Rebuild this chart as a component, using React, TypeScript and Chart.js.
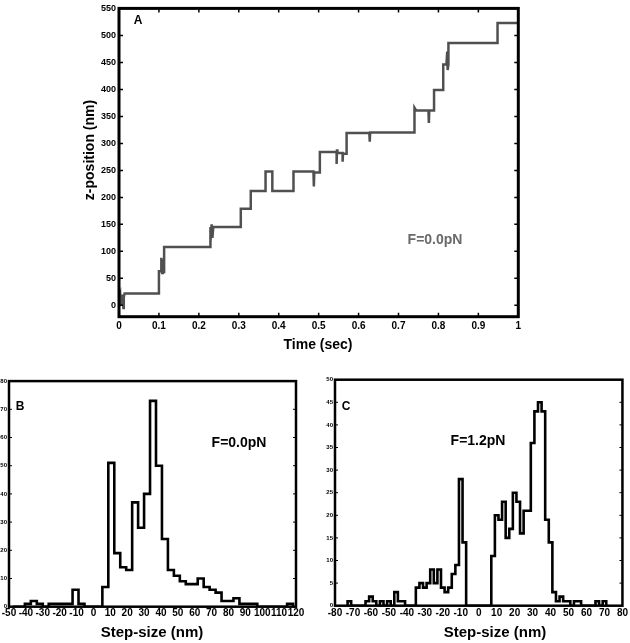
import React, { useEffect, useRef } from 'react';
import { Chart, registerables } from 'chart.js';
Chart.register(...registerables);

const FONT = '"Liberation Sans", Arial, Helvetica, sans-serif';

// ---------- Panel A: z-position trace ----------
const timeA = [
  0, 0.003, 0.004, 0.006, 0.008, 0.010, 0.011, 0.012, 0.014, 0.100,
  0.100, 0.106, 0.106, 0.108, 0.110, 0.111, 0.113, 0.113, 0.228, 0.228,
  0.230, 0.232, 0.234, 0.236, 0.305, 0.305, 0.330, 0.330, 0.367, 0.367,
  0.384, 0.384, 0.437, 0.437, 0.487, 0.488, 0.489, 0.503, 0.503, 0.545,
  0.545, 0.546, 0.547, 0.560, 0.560, 0.561, 0.570, 0.570, 0.627, 0.628,
  0.629, 0.740, 0.740, 0.744, 0.775, 0.776, 0.777, 0.789, 0.789, 0.812,
  0.812, 0.820, 0.822, 0.823, 0.825, 0.825, 0.948, 0.948, 1.0,
];
const zA = [
  12, 20, 0, 18, 5, 20, -5, 15, 22, 22,
  63, 63, 88, 60, 85, 62, 62, 108, 108, 145,
  118, 150, 125, 145, 145, 179, 179, 212, 212, 248,
  248, 212, 212, 248, 248, 220, 246, 246, 284, 284,
  262, 289, 282, 282, 266, 281, 281, 319, 319, 303,
  320, 320, 366, 361, 361, 338, 361, 361, 399, 399,
  446, 446, 470, 436, 446, 486, 486, 523, 523,
];
const xTicksA = [0, 0.1, 0.2, 0.3, 0.4, 0.5, 0.6, 0.7, 0.8, 0.9, 1];
const yTicksA = [0, 50, 100, 150, 200, 250, 300, 350, 400, 450, 500, 550];

// ---------- Panel B: step-size histogram, F=0.0pN ----------
const binStartB = -47.65;
const binWidthB = 3.53;
const countsB = [
  0, 0, 1, 2, 1, 0, 1, 1, 1, 1,
  6, 1, 0, 0, 0, 7, 51, 19, 14, 13,
  37, 28, 40, 73, 50, 24, 13, 11, 9, 8,
  8, 10, 7, 6, 5, 2, 2, 3, 1, 1,
  1, 0, 0, 0, 0, 0, 1,
];
const xTicksB = [-50, -40, -30, -20, -10, 0, 10, 20, 30, 40, 50, 60, 70, 80, 90, 100, 110, 120];
const yTicksB = [0, 10, 20, 30, 40, 50, 60, 70, 80];

// ---------- Panel C: step-size histogram, F=1.2pN ----------
const binStartC = -73;
const binWidthC = 2;
const countsC = [
  1, 0, 0, 0, 0, 1, 2, 1, 0, 1,
  0, 1, 0, 3, 1, 1, 0, 0, 0, 4,
  5, 4, 5, 8, 5, 8, 4, 3, 4, 7,
  9, 28, 14, 0, 0, 0, 0, 0, 0, 0,
  11, 20, 19, 23, 15, 17, 25, 23, 16, 21,
  21, 36, 43, 45, 43, 19, 14, 3, 1, 2,
  1, 1, 0, 1, 1, 0, 0, 0, 0, 1,
  0, 1,
];
const xTicksC = [-80, -70, -60, -50, -40, -30, -20, -10, 0, 10, 20, 30, 40, 50, 60, 70, 80];
const yTicksC = [0, 5, 10, 15, 20, 25, 30, 35, 40, 45, 50];

type TextItem = { text: string; x: number; y: number; size: number; color?: string; rotate?: boolean };

const framePlugin = {
  id: 'frame',
  afterDraw(chart: any, _args: any, opts: any) {
    const { ctx, chartArea } = chart;
    const { left, top, right, bottom } = chartArea;
    const xs = chart.scales.x;
    const ys = chart.scales.y;
    ctx.save();
    ctx.strokeStyle = '#000';
    ctx.lineWidth = opts.tickWidth || 1.5;
    const L = opts.tickLen || 4;
    if (opts.xTicks) {
      xs.ticks.forEach((t: any) => {
        const px = xs.getPixelForValue(t.value);
        ctx.beginPath();
        ctx.moveTo(px, bottom);
        ctx.lineTo(px, bottom - L);
        ctx.moveTo(px, top);
        ctx.lineTo(px, top + L);
        ctx.stroke();
      });
    }
    ys.ticks.forEach((t: any) => {
      const py = ys.getPixelForValue(t.value);
      ctx.beginPath();
      ctx.moveTo(left, py);
      ctx.lineTo(left + L, py);
      ctx.moveTo(right, py);
      ctx.lineTo(right - L, py);
      ctx.stroke();
    });
    ctx.lineWidth = opts.width || 2;
    ctx.strokeRect(left, top, right - left, bottom - top);
    (opts.texts || []).forEach((t: TextItem) => {
      ctx.save();
      ctx.font = `bold ${t.size}px ${FONT}`;
      ctx.fillStyle = t.color || '#000';
      ctx.textAlign = 'center';
      ctx.textBaseline = 'middle';
      ctx.translate(t.x, t.y);
      if (t.rotate) ctx.rotate(-Math.PI / 2);
      ctx.fillText(t.text, 0, 0);
      ctx.restore();
    });
    ctx.restore();
  },
};

function histPoints(start: number, width: number, counts: number[]) {
  const pts = [{ x: start, y: 0 }];
  counts.forEach((c, i) => pts.push({ x: start + i * width, y: c }));
  pts.push({ x: start + counts.length * width, y: 0 });
  return pts;
}

function axis(o: any) {
  return {
    type: 'linear',
    min: o.min,
    max: o.max,
    grid: { display: false, drawTicks: false },
    border: { display: false },
    ticks: {
      autoSkip: false,
      maxRotation: 0,
      minRotation: 0,
      padding: o.padding,
      color: '#000',
      font: { family: FONT, size: o.fontSize, weight: o.weight || 'bold' },
      callback: (v: any) => String(Math.round(Number(v) * 10) / 10),
    },
    afterBuildTicks: (s: any) => {
      s.ticks = o.ticks.map((v: number) => ({ value: v }));
    },
    afterFit: (s: any) => {
      if (o.height !== undefined) s.height = o.height;
      if (o.width !== undefined) s.width = o.width;
    },
  };
}

function makeConfig(p: any): any {
  return {
    type: 'line',
    data: {
      datasets: [
        {
          data: p.data,
          borderColor: p.lineColor,
          borderWidth: p.lineWidth,
          pointRadius: 0,
          stepped: p.stepped || false,
          fill: false,
          tension: 0,
        },
      ],
    },
    options: {
      animation: false,
      responsive: false,
      maintainAspectRatio: false,
      events: [],
      layout: { padding: p.padding },
      plugins: {
        legend: { display: false },
        tooltip: { enabled: false },
        frame: p.frame,
      },
      scales: { x: axis(p.x), y: axis(p.y) },
    },
    plugins: [framePlugin],
  };
}

export default function App() {
  const refA = useRef<HTMLCanvasElement>(null);
  const refB = useRef<HTMLCanvasElement>(null);
  const refC = useRef<HTMLCanvasElement>(null);

  useEffect(() => {
    const charts: Chart[] = [];
    const dataA = timeA.map((t, i) => ({ x: t, y: zA[i] }));
    charts.push(
      new Chart(
        refA.current!,
        makeConfig({
          data: dataA,
          lineColor: '#505050',
          lineWidth: 2.5,
          padding: { top: 4.5, right: 111.7, left: 0, bottom: 0 },
          x: { min: 0, max: 1, ticks: xTicksA, padding: 4, fontSize: 10, height: 53.3 },
          y: { min: -21, max: 550, ticks: yTicksA, padding: 3, fontSize: 9, width: 119 },
          frame: {
            width: 3,
            tickLen: 4,
            tickWidth: 1.5,
            xTicks: true,
            texts: [
              { text: 'A', x: 138, y: 21, size: 12 },
              { text: 'F=0.0pN', x: 435, y: 240, size: 14, color: '#6a6a6a' },
              { text: 'z-position (nm)', x: 90, y: 150, size: 14, rotate: true },
              { text: 'Time (sec)', x: 318, y: 345, size: 14 },
            ],
          },
        })
      )
    );
    charts.push(
      new Chart(
        refB.current!,
        makeConfig({
          data: histPoints(binStartB, binWidthB, countsB),
          lineColor: '#000',
          lineWidth: 2.6,
          stepped: 'before',
          padding: { top: 11.1, right: 19, left: 0, bottom: 0 },
          x: { min: -50, max: 120, ticks: xTicksB, padding: 1, fontSize: 10, height: 36.3 },
          y: { min: 0, max: 80, ticks: yTicksB, padding: 2, fontSize: 6, width: 9 },
          frame: {
            width: 2.5,
            tickLen: 3,
            tickWidth: 1,
            xTicks: false,
            texts: [
              { text: 'B', x: 20, y: 37, size: 12 },
              { text: 'F=0.0pN', x: 239, y: 73, size: 14 },
              { text: 'Step-size (nm)', x: 152, y: 263, size: 15 },
            ],
          },
        })
      )
    );
    charts.push(
      new Chart(
        refC.current!,
        makeConfig({
          data: histPoints(binStartC, binWidthC, countsC),
          lineColor: '#000',
          lineWidth: 2.6,
          stepped: 'before',
          padding: { top: 9.7, right: 7, left: 0, bottom: 0 },
          x: { min: -80, max: 80, ticks: xTicksC, padding: 2, fontSize: 10, height: 37.3 },
          y: { min: 0, max: 50, ticks: yTicksC, padding: 2, fontSize: 6, width: 20 },
          frame: {
            width: 2.5,
            tickLen: 3,
            tickWidth: 1,
            xTicks: false,
            texts: [
              { text: 'C', x: 31, y: 37, size: 12 },
              { text: 'F=1.2pN', x: 163, y: 71, size: 14 },
              { text: 'Step-size (nm)', x: 180, y: 263, size: 15 },
            ],
          },
        })
      )
    );
    return () => charts.forEach((c) => c.destroy());
  }, []);

  return (
    <div style={{ position: 'absolute', left: 0, top: 0, width: 630, height: 643, background: '#fff' }}>
      <canvas ref={refA} width={630} height={370} style={{ position: 'absolute', left: 0, top: 0 }} />
      <canvas ref={refB} width={315} height={273} style={{ position: 'absolute', left: 0, top: 370 }} />
      <canvas ref={refC} width={315} height={273} style={{ position: 'absolute', left: 315, top: 370 }} />
    </div>
  );
}
